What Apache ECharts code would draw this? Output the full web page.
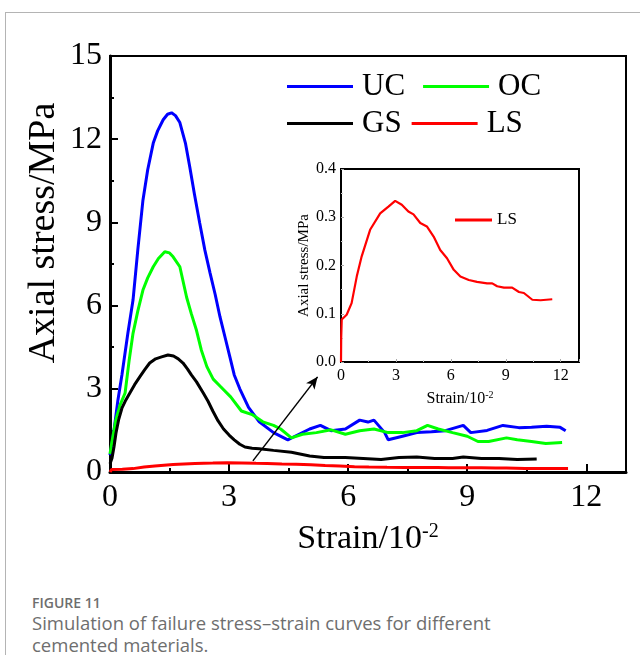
<!DOCTYPE html>
<html><head><meta charset="utf-8">
<script src="https://cdn.jsdelivr.net/npm/echarts@6/dist/echarts.min.js"></script>
<style>
html,body{margin:0;padding:0;background:#fff;width:640px;height:655px;overflow:hidden;}
#frame{position:absolute;left:5px;top:12px;width:640px;height:650px;border-top:1px solid #b4b4b4;border-left:1px solid #b4b4b4;}
#chart{position:absolute;left:0;top:0;width:640px;height:580px;}
.cap{position:absolute;left:32px;font-family:'Open Sans',sans-serif;color:#6e6e6e;white-space:nowrap;}
</style></head>
<body>
<div id="frame"></div>
<div id="chart"></div>
<div class="cap" style="top:593px;font-size:14px;font-weight:600;">FIGURE 11</div>
<div class="cap" style="top:612px;font-size:18.5px;line-height:22px;">Simulation of failure stress&ndash;strain curves for different<br>cemented materials.</div>
<script>
// ---- data ----
const ucX = [0,0.05,0.1,0.2,0.3,0.45,0.58,0.7,0.83,0.95,1.09,1.2,1.34,1.45,1.55,1.65,1.76,1.9,2.01,2.13,2.26,2.39,2.52,2.65,2.77,2.9,3.02,3.13,3.27,3.49,3.76,4.12,4.48,4.66,5.03,5.3,5.57,5.93,6.29,6.5,6.65,6.92,7.01,7.37,7.73,8.1,8.45,8.9,9.09,9.5,9.9,10.3,10.62,11.0,11.34,11.48];
const ucY = [0.6,1.0,1.5,2.6,3.5,5.0,6.2,8.0,9.8,10.9,11.86,12.3,12.7,12.9,12.95,12.85,12.6,11.86,11.0,10.0,8.98,8.0,7.18,6.4,5.6,4.85,4.15,3.5,3.0,2.33,1.81,1.42,1.16,1.29,1.55,1.68,1.49,1.55,1.87,1.8,1.87,1.42,1.16,1.29,1.42,1.45,1.49,1.68,1.42,1.5,1.68,1.6,1.61,1.65,1.61,1.49];
const ocX = [0,0.05,0.15,0.25,0.38,0.48,0.58,0.7,0.83,0.95,1.09,1.22,1.38,1.5,1.59,1.76,1.93,2.05,2.18,2.3,2.44,2.6,2.77,3.04,3.31,3.58,3.85,4.12,4.3,4.57,4.85,5.2,5.57,5.93,6.29,6.65,7.01,7.37,7.73,8.0,8.27,8.63,9.0,9.27,9.54,9.99,10.26,10.62,10.98,11.39];
const ocY = [0.65,1.1,1.9,2.4,2.85,4.0,5.0,5.8,6.56,7.0,7.4,7.7,7.94,7.9,7.76,7.4,6.3,5.7,5.1,4.4,3.8,3.35,3.1,2.71,2.2,2.07,1.81,1.68,1.55,1.23,1.36,1.42,1.52,1.36,1.49,1.55,1.42,1.42,1.49,1.68,1.55,1.42,1.29,1.1,1.1,1.23,1.16,1.1,1.03,1.06];
const gsX = [0,0.05,0.1,0.15,0.22,0.3,0.4,0.5,0.62,0.75,0.88,1.0,1.15,1.3,1.46,1.6,1.72,1.84,1.95,2.05,2.18,2.35,2.47,2.59,2.72,2.86,3.0,3.13,3.27,3.4,3.58,3.76,4.12,4.57,5.03,5.39,5.93,6.38,6.83,7.28,7.73,8.18,8.63,8.9,9.36,9.8,10.26,10.75];
const gsY = [0.3,0.5,0.9,1.4,1.9,2.3,2.6,2.85,3.15,3.43,3.7,3.93,4.08,4.15,4.22,4.18,4.08,3.93,3.72,3.5,3.25,2.85,2.55,2.2,1.85,1.55,1.33,1.16,1.0,0.9,0.86,0.84,0.78,0.71,0.58,0.52,0.52,0.49,0.45,0.52,0.54,0.49,0.49,0.54,0.49,0.49,0.45,0.47];
const lsX = [0,0.01,0.04,0.31,0.58,0.86,1.13,1.59,2.14,2.59,2.96,3.32,3.68,3.96,4.33,4.69,5.06,5.42,5.79,6.16,6.52,6.98,7.43,7.98,8.26,8.53,8.9,9.35,9.72,9.99,10.45,10.9,11.54];
const lsY = [0,0.05,0.088,0.098,0.122,0.177,0.219,0.274,0.308,0.322,0.334,0.326,0.312,0.306,0.288,0.281,0.26,0.232,0.215,0.191,0.177,0.17,0.166,0.163,0.163,0.157,0.154,0.154,0.145,0.143,0.129,0.128,0.13];
const seriesNames = ['UC','OC','GS','LS'];
const seriesColors = ['#0000ff','#00ff00','#000000','#ff0000'];
const arrowFrom = [3.6, 0.4];
const arrowTo = [5.23, 3.43];
const mainXTicks = {min:0, max:13, interval:3};
const mainYTicks = {min:0, max:15, interval:3};
const insetXTicks = {min:0, max:13, interval:3};
const insetYTicks = {min:0, max:0.4, interval:0.1};
const yTitle = 'Axial stress/MPa';
const xTitle = 'Strain/10{sup|-2}';

const zip = (xs, ys) => xs.map((x, i) => [x, ys[i]]);
const serif = 'Liberation Serif';

const chart = echarts.init(document.getElementById('chart'), null, {renderer:'canvas'});

function mkAxis(grid, t, o) {
  return Object.assign({
    type:'value', gridIndex:grid, min:t.min, max:t.max, interval:t.interval,
    splitLine:{show:false}
  }, o);
}

const option = {
  animation:false,
  backgroundColor:'transparent',
  grid:[
    {left:110, top:56, width:516, height:416, show:true, borderColor:'#000', borderWidth:2, backgroundColor:'transparent'},
    {left:341, top:169, width:238, height:193, show:true, borderColor:'#000', borderWidth:2, backgroundColor:'#fff', z:5}
  ],
  xAxis:[
    mkAxis(0, mainXTicks, {
      axisLine:{onZero:false, lineStyle:{color:'#000', width:3}},
      axisTick:{inside:true, length:8, lineStyle:{color:'#000', width:2}},
      minorTick:{show:true, splitNumber:2, length:4, lineStyle:{color:'#000', width:2}},
      axisLabel:{fontFamily:serif, fontSize:32, color:'#000', margin:10, showMaxLabel:false},
      name:xTitle, nameLocation:'middle', nameGap:50,
      nameTextStyle:{fontFamily:serif, fontSize:34, color:'#000', rich:{sup:{fontFamily:serif, fontSize:20, color:'#000', verticalAlign:'top', padding:[0,0,15,0]}}}
    }),
    mkAxis(1, insetXTicks, {
      z:6,
      axisLine:{onZero:false, lineStyle:{color:'#000', width:2}},
      axisTick:{inside:true, length:3, lineStyle:{color:'#aaa', width:1}},
      minorTick:{show:true, splitNumber:2, length:2, lineStyle:{color:'#ccc', width:1}},
      axisLabel:{fontFamily:serif, fontSize:16, color:'#000', margin:6, showMaxLabel:false},
      name:xTitle, nameLocation:'middle', nameGap:28,
      nameTextStyle:{fontFamily:serif, fontSize:16, color:'#000', rich:{sup:{fontFamily:serif, fontSize:10, color:'#000', verticalAlign:'top', padding:[0,0,7,0]}}}
    })
  ],
  yAxis:[
    mkAxis(0, mainYTicks, {
      axisLine:{onZero:false, lineStyle:{color:'#000', width:3}},
      axisTick:{inside:true, length:8, lineStyle:{color:'#000', width:2}},
      minorTick:{show:true, splitNumber:2, length:4, lineStyle:{color:'#000', width:2}},
      axisLabel:{fontFamily:serif, fontSize:32, color:'#000', margin:8}
    }),
    mkAxis(1, insetYTicks, {
      z:6,
      axisLine:{onZero:false, lineStyle:{color:'#000', width:2}},
      axisTick:{inside:true, length:3, lineStyle:{color:'#aaa', width:1}},
      minorTick:{show:true, splitNumber:2, length:2, lineStyle:{color:'#ccc', width:1}},
      axisLabel:{fontFamily:serif, fontSize:16, color:'#000', margin:5, formatter:v => v.toFixed(1)},
      name:yTitle, nameLocation:'middle', nameGap:29,
      nameTextStyle:{fontFamily:serif, fontSize:15, color:'#000'}
    })
  ],
  legend:[
    {data:['UC','OC'], left:287, top:71, padding:0, itemWidth:66, itemHeight:3, icon:'rect', itemGap:18,
     textStyle:{fontFamily:serif, fontSize:31, color:'#000', padding:[0,0,0,4], lineHeight:30}, selectedMode:false},
    {data:['GS','LS'], left:287, top:108, padding:0, itemWidth:66, itemHeight:3, icon:'rect', itemGap:10,
     textStyle:{fontFamily:serif, fontSize:31, color:'#000', padding:[0,0,0,4], lineHeight:30}, selectedMode:false},
    {data:['LS'], left:455, top:211, padding:0, itemWidth:37, itemHeight:3, icon:'rect', z:8,
     textStyle:{fontFamily:serif, fontSize:17, color:'#000', padding:[0,0,0,0], lineHeight:18}, selectedMode:false}
  ],
  graphic:[
    {type:'text', x:44, y:233, rotation:Math.PI/2,
     style:{text:yTitle, font:'38px "Liberation Serif"', fill:'#000', align:'center', verticalAlign:'middle'}}
  ],
  series:[
    {name:seriesNames[0], type:'line', xAxisIndex:0, yAxisIndex:0, data:zip(ucX, ucY), showSymbol:false, color:seriesColors[0], lineStyle:{width:3, color:seriesColors[0]}},
    {name:seriesNames[1], type:'line', xAxisIndex:0, yAxisIndex:0, data:zip(ocX, ocY), showSymbol:false, color:seriesColors[1], lineStyle:{width:3, color:seriesColors[1]}},
    {name:seriesNames[2], type:'line', xAxisIndex:0, yAxisIndex:0, data:zip(gsX, gsY), showSymbol:false, color:seriesColors[2], lineStyle:{width:3, color:seriesColors[2]},
     markLine:{silent:true, symbol:['none','arrow'], symbolSize:[8,12], label:{show:false},
       lineStyle:{color:'#000', width:1.5, type:'solid'},
       data:[[{coord:arrowFrom}, {coord:arrowTo}]]}},
    {name:seriesNames[3], type:'line', xAxisIndex:0, yAxisIndex:0, data:zip(lsX, lsY), showSymbol:false, color:seriesColors[3], lineStyle:{width:3, color:seriesColors[3]}},
    {name:seriesNames[3], type:'line', xAxisIndex:1, yAxisIndex:1, data:zip(lsX, lsY), showSymbol:false, z:7, color:seriesColors[3], lineStyle:{width:2.2, color:seriesColors[3]}}
  ]
};
chart.setOption(option);
</script>
</body></html>
